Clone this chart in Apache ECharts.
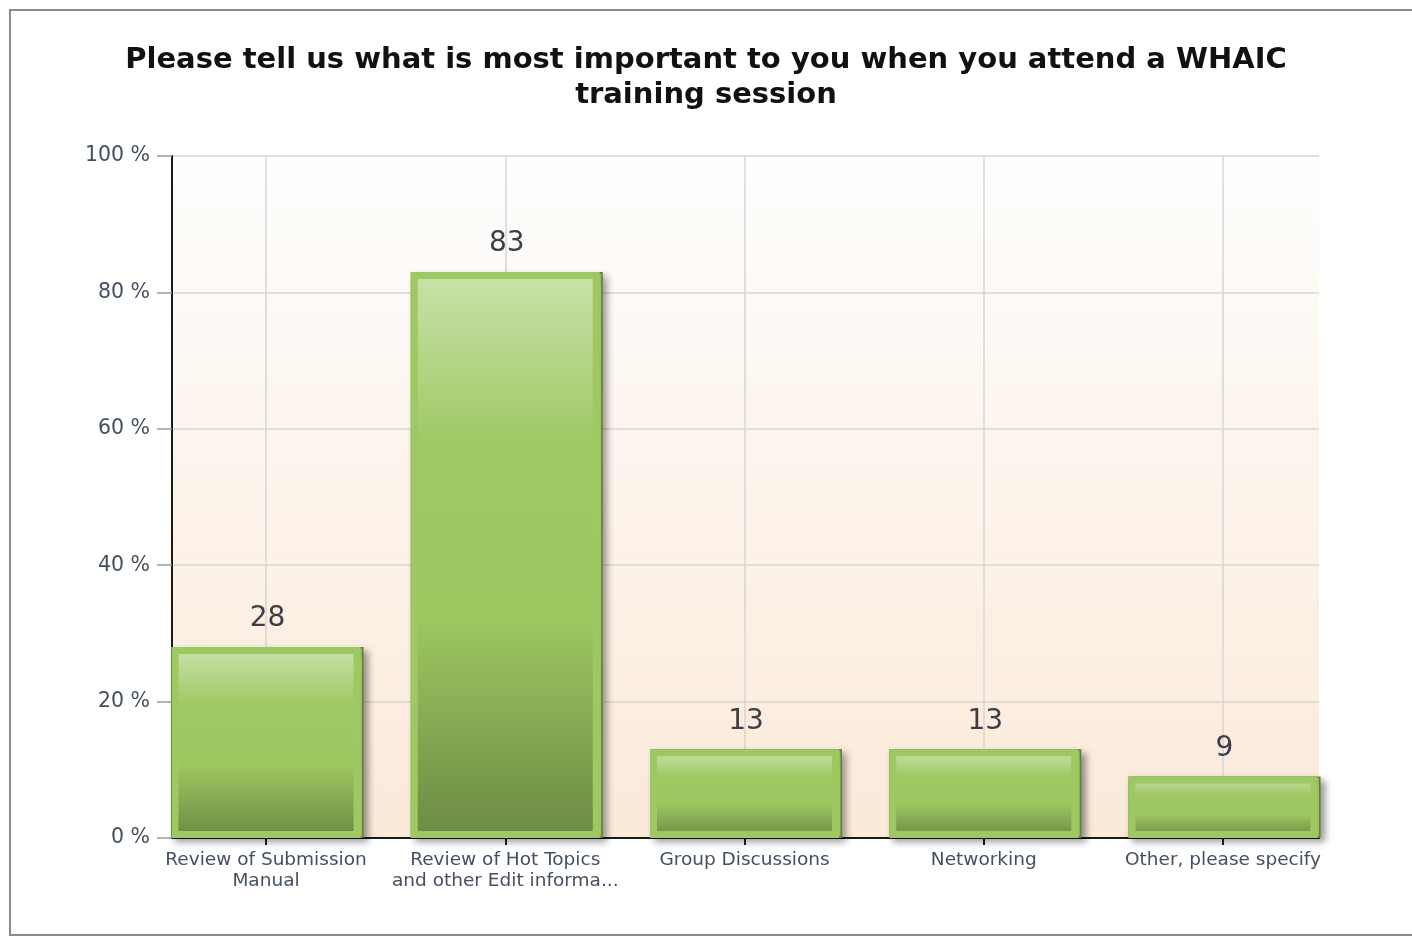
<!DOCTYPE html>
<html>
<head>
<meta charset="utf-8">
<script src="https://cdn.jsdelivr.net/npm/echarts@6/dist/echarts.min.js"></script>
<style>
html,body{margin:0;padding:0;background:#fff;}
#chart{width:1412px;height:937px;}
</style>
</head>
<body>
<div id="chart"></div>
<script>
const titleText = 'Please tell us what is most important to you when you attend a WHAIC\ntraining session';
const categories = [
  'Review of Submission\nManual',
  'Review of Hot Topics\nand other Edit informa...',
  'Group Discussions',
  'Networking',
  'Other, please specify'
];
const values = [28, 83, 13, 13, 9];
const yMin = 0;
const yMax = 100;
const yInterval = 20;

const chart = echarts.init(document.getElementById('chart'), null, {renderer: 'canvas'});

const barGradient = new echarts.graphic.LinearGradient(0, 0, 0, 1, [
  {offset: 0, color: '#c9e2aa'},
  {offset: 0.3, color: '#9fc965'},
  {offset: 0.62, color: '#9cc660'},
  {offset: 1, color: '#6b8a44'}
]);
const bgGradient = new echarts.graphic.LinearGradient(0, 0, 0, 1, [
  {offset: 0, color: '#fefefd'},
  {offset: 1, color: '#fbe9d9'}
]);

const option = {
  backgroundColor: '#ffffff',
  animation: false,
  title: {
    text: titleText,
    left: 'center',
    top: 38,
    textStyle: {
      fontFamily: 'DejaVu Sans, sans-serif',
      fontWeight: 'bold',
      fontSize: 29,
      lineHeight: 35,
      color: '#111111'
    }
  },
  graphic: [{
    type: 'rect',
    z: 100,
    silent: true,
    shape: {x: 10, y: 10, width: 1420, height: 925},
    style: {fill: 'none', stroke: '#8a8a8a', lineWidth: 2}
  }],
  grid: [
    {left: 172, right: 93, top: 156, bottom: 99, show: true, backgroundColor: bgGradient, borderWidth: 0},
    {left: 266, right: 189, top: 156, bottom: 99, show: false}
  ],
  xAxis: [
    {
      gridIndex: 0, type: 'value', min: 0, max: 1,
      axisLine: {show: true, onZero: false, lineStyle: {color: '#1a1a1a', width: 2}},
      axisTick: {show: false}, axisLabel: {show: false}, splitLine: {show: false}
    },
    {
      gridIndex: 1, type: 'category', data: categories, boundaryGap: false,
      axisLine: {show: false},
      axisTick: {show: true, length: 7, lineStyle: {color: '#1a1a1a', width: 2}},
      splitLine: {show: true, lineStyle: {color: '#d6d6d6', width: 1.5}},
      axisLabel: {
        interval: 0, margin: 12, hideOverlap: false,
        fontFamily: 'DejaVu Sans, sans-serif', fontSize: 18.5, lineHeight: 21,
        color: '#445060'
      }
    }
  ],
  yAxis: [
    {
      gridIndex: 0, type: 'value', min: yMin, max: yMax, interval: yInterval,
      axisLine: {show: true, lineStyle: {color: '#1a1a1a', width: 2}},
      axisTick: {show: true, length: 15, lineStyle: {color: '#9a9a9a', width: 1.5}},
      splitLine: {show: true, lineStyle: {color: '#d6d6d6', width: 1.5}},
      axisLabel: {
        margin: 22, formatter: '{value} %',
        fontFamily: 'DejaVu Sans, sans-serif', fontSize: 20.5,
        color: '#445060'
      }
    },
    {
      gridIndex: 1, type: 'value', min: yMin, max: yMax, interval: yInterval, show: false
    }
  ],
  series: [
    {
      name: 'frame',
      type: 'bar',
      xAxisIndex: 1,
      yAxisIndex: 1,
      data: values,
      barWidth: 192,
      barGap: '-100%',
      clip: false,
      silent: true,
      itemStyle: {
        color: '#9dc862',
        borderColor: '#5f7e3a',
        borderWidth: 1.5,
        shadowColor: 'rgba(0,0,0,0.4)',
        shadowBlur: 7,
        shadowOffsetX: 4,
        shadowOffsetY: 4
      },
      label: {
        show: true,
        position: 'top',
        distance: 14,
        fontFamily: 'DejaVu Sans, sans-serif',
        fontSize: 28,
        color: '#3a3f48'
      }
    },
    {
      name: 'fill',
      type: 'bar',
      xAxisIndex: 1,
      yAxisIndex: 1,
      data: values,
      barWidth: 189,
      barGap: '-100%',
      clip: false,
      itemStyle: {
        color: barGradient,
        borderColor: '#9dc862',
        borderWidth: 7
      }
    }
  ]
};
chart.setOption(option);
</script>
</body>
</html>
